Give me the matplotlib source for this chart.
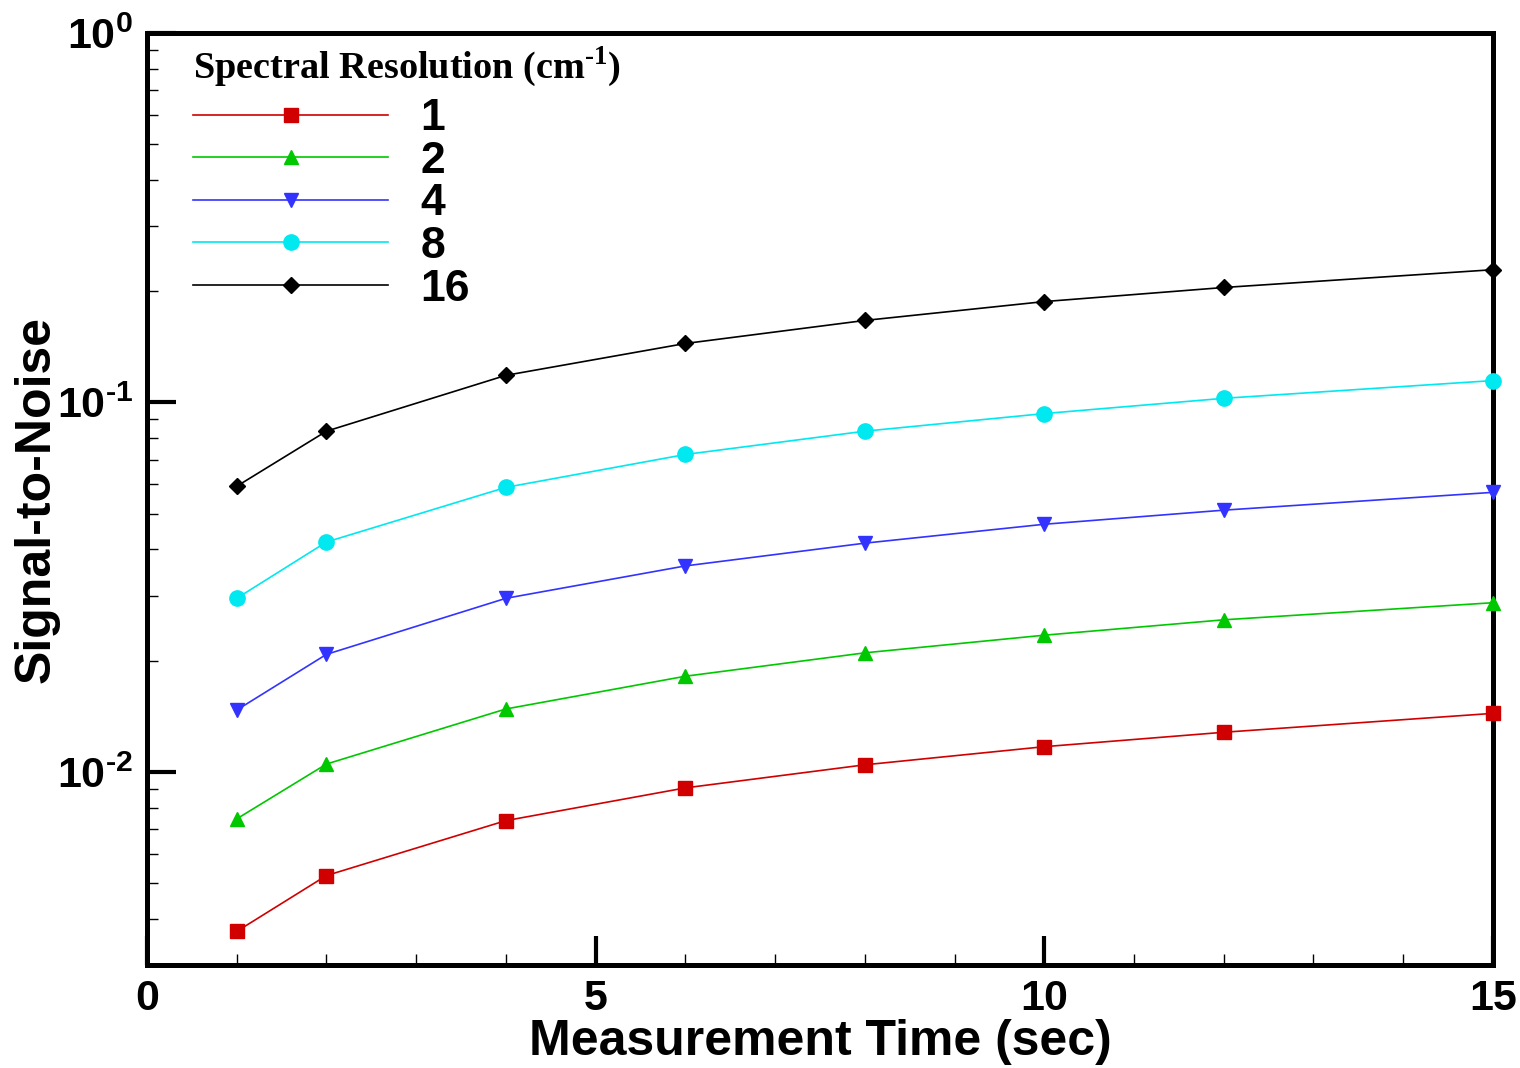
import math
import matplotlib
matplotlib.use("Agg")
import matplotlib.pyplot as plt
from matplotlib.ticker import FixedLocator, LogLocator, FuncFormatter, NullFormatter

plt.rcParams["font.family"] = ["Liberation Sans", "DejaVu Sans"]
plt.rcParams["mathtext.fontset"] = "custom"
plt.rcParams["mathtext.sf"] = "Liberation Sans:bold"
plt.rcParams["mathtext.rm"] = "Liberation Serif:bold"
plt.rcParams["mathtext.bf"] = "Liberation Serif:bold"

# measurement time (sec)
time = [1, 2, 4, 6, 8, 10, 12, 15]

# signal-to-noise for each spectral resolution
snr_1 = [0.0037, 0.00524, 0.00738, 0.00905, 0.01045, 0.0117, 0.0128, 0.0144]
snr_2 = [0.00746, 0.0105, 0.0148, 0.01815, 0.0210, 0.02344, 0.0258, 0.0287]
snr_4 = [0.0147, 0.0208, 0.0295, 0.0361, 0.0416, 0.0468, 0.0511, 0.0571]
snr_8 = [0.0295, 0.0419, 0.0589, 0.0723, 0.0836, 0.0933, 0.1026, 0.1146]
snr_16 = [0.0593, 0.0836, 0.1184, 0.1444, 0.1667, 0.1875, 0.2047, 0.2287]

labels = ["1", "2", "4", "8", "16"]
series = [snr_1, snr_2, snr_4, snr_8, snr_16]
colors = ["#d00000", "#00c800", "#3333ff", "#00e8f0", "black"]
markers = ["s", "^", "v", "o", "D"]
msizes = [9.5, 9.5, 9.5, 11, 8.5]

fig = plt.figure(figsize=(15.2, 10.68), dpi=100)
ax = fig.add_axes([0.0967, 0.0964, 0.8855, 0.8727])

for s, lab, c, m, ms in zip(series, labels, colors, markers, msizes):
    ax.plot(time, s, color=c, marker=m, markersize=ms, linewidth=1.2,
            label=lab, clip_on=False, zorder=3)

ax.set_yscale("log")
ax.set_xlim(0, 15)
ax.set_ylim(0.00300, 1.0)

ax.xaxis.set_major_locator(FixedLocator([0, 5, 10, 15]))
ax.xaxis.set_minor_locator(FixedLocator([i for i in range(1, 15) if i % 5]))
ax.yaxis.set_major_locator(LogLocator(base=10, numticks=10))
ax.yaxis.set_minor_locator(LogLocator(base=10, subs=range(2, 10), numticks=20))
ax.yaxis.set_minor_formatter(NullFormatter())

def log_fmt(v, pos):
    e = int(round(math.log10(v)))
    return r"$\mathsf{10^{\text{-}%d}}$" % abs(e) if e < 0 else r"$\mathsf{10^{%d}}$" % e

ax.yaxis.set_major_formatter(FuncFormatter(log_fmt))

for sp in ax.spines.values():
    sp.set_linewidth(3.6)

ax.tick_params(which="major", direction="in", length=21, width=3, labelsize=31,
               top=False, right=False, pad=10)
ax.tick_params(which="minor", direction="in", length=8, width=1,
               top=False, right=False)
for t in ax.get_xticklabels() + ax.get_yticklabels():
    t.set_fontweight("bold")

ax.set_xlabel("Measurement Time (sec)", fontsize=36, fontweight="bold", labelpad=0)
ax.set_ylabel("Signal-to-Noise", fontsize=36, fontweight="bold", labelpad=-2)

leg = ax.legend(loc="upper left", bbox_to_anchor=(0.034, 0.988), frameon=False,
                title=r"Spectral Resolution (cm$^{\text{-1}}$)",
                prop={"family": "Liberation Sans", "weight": "bold", "size": 32},
                handlelength=4.4, handletextpad=0.72, labelspacing=0.035,
                borderaxespad=0.0, borderpad=0.0, alignment="left")
leg.get_title().set_fontfamily("Liberation Serif")
leg.get_title().set_fontweight("bold")
leg.get_title().set_fontsize(27.5)
leg._legend_box.sep = 7

fig.savefig("out.png", dpi=100)
